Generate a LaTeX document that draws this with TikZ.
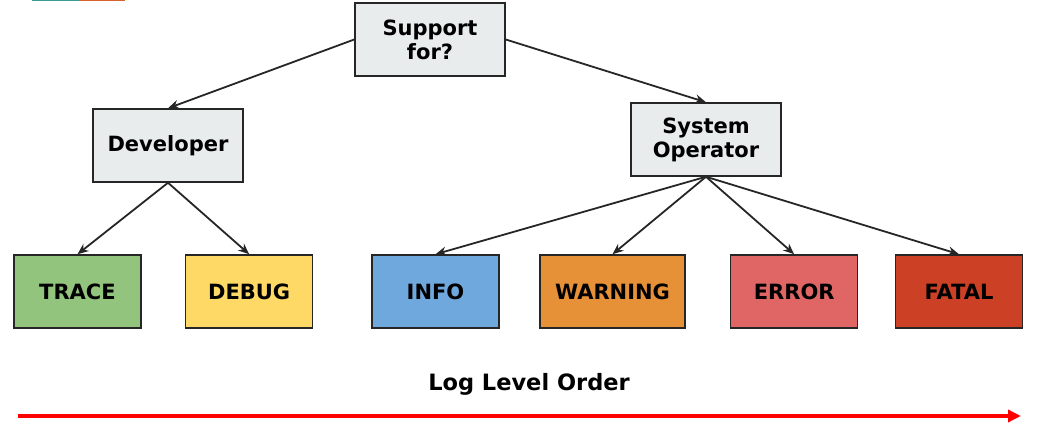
\documentclass[tikz,border=0pt]{standalone}
\usepackage{fontspec}
\setmainfont{DejaVu Sans}
\usetikzlibrary{arrows.meta}
\definecolor{boxgray}{HTML}{E8ECEC}
\definecolor{cTrace}{HTML}{93C47D}
\definecolor{cDebug}{HTML}{FFD966}
\definecolor{cInfo}{HTML}{6FA8DC}
\definecolor{cWarn}{HTML}{E69138}
\definecolor{cErr}{HTML}{E06666}
\definecolor{cFatal}{HTML}{CC4125}
\definecolor{cTeal}{HTML}{3A9A9A}
\definecolor{cOrange}{HTML}{D9622B}
\begin{document}
\begin{tikzpicture}[x=1pt,y=-1pt,
  box/.style={draw=black!85,line width=1.5pt,minimum width=150pt,minimum height=73pt,
    font=\fontsize{21}{24}\selectfont\bfseries,align=center,inner sep=0pt},
  gbox/.style={box,fill=boxgray},
  lbox/.style={box,minimum width=127pt},
  conn/.style={line width=1.8pt,black!85,-{Stealth[length=11pt,width=9pt]}}]
\useasboundingbox (0,0) rectangle (1047,430);
\fill[cTeal] (32,0) rectangle (79,1.5);
\fill[cOrange] (79,0) rectangle (125,1.5);
\node[gbox] (sup) at (430,39.5) {Support\\for?};
\node[gbox] (dev) at (168,145.5) {Developer};
\node[gbox] (sys) at (706,139.5) {System\\Operator};
\node[lbox,fill=cTrace] (trace) at (77.5,291.5) {TRACE};
\node[lbox,fill=cDebug] (debug) at (249.2,291.5) {DEBUG};
\node[lbox,fill=cInfo] (info) at (435.5,291.5) {INFO};
\node[lbox,fill=cWarn,minimum width=145pt] (warn) at (612.5,291.5) {WARNING};
\node[lbox,fill=cErr] (err) at (794.2,291.5) {ERROR};
\node[lbox,fill=cFatal] (fatal) at (959,291.5) {FATAL};
\draw[conn] (sup.west) -- (dev.north);
\draw[conn] (sup.east) -- (sys.north);
\draw[conn] (dev.south) -- (trace.north);
\draw[conn] (dev.south) -- (debug.north);
\draw[conn] (sys.south) -- (info.north);
\draw[conn] (sys.south) -- (warn.north);
\draw[conn] (sys.south) -- (err.north);
\draw[conn] (sys.south) -- (fatal.north);
\node[font=\fontsize{22.5}{26}\selectfont\bfseries] (title) at (529,384) {Log Level Order};
\coordinate (a0) at (18,416);
\coordinate (a1) at (1021,416);
\draw[red,line width=3.5pt,-{Triangle[length=13pt,width=12pt]}] (a0) -- (a1);
\end{tikzpicture}
\end{document}
